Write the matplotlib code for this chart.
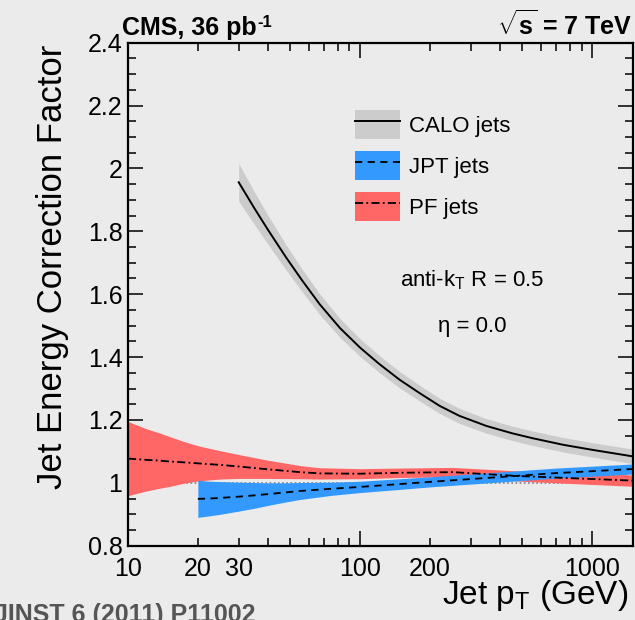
import matplotlib
matplotlib.use('Agg')
import matplotlib.pyplot as plt
from matplotlib.patches import Patch
from matplotlib.lines import Line2D
from matplotlib.ticker import FixedLocator, FixedFormatter

plt.rcParams['font.family'] = ['Liberation Sans', 'DejaVu Sans']
plt.rcParams['mathtext.fontset'] = 'custom'
plt.rcParams['mathtext.rm'] = 'Liberation Sans'
plt.rcParams['mathtext.it'] = 'Liberation Sans:italic'
plt.rcParams['mathtext.bf'] = 'Liberation Sans:bold'

# ---------------- data ----------------
pt_calo = [30, 35, 40, 48, 56, 67, 82, 100, 121, 148, 180, 220, 268, 350, 450, 553, 750, 1000, 1500]
corr_calo = [1.956, 1.874, 1.806, 1.717, 1.646, 1.568, 1.492, 1.430, 1.378, 1.328, 1.286, 1.245,
             1.213, 1.181, 1.158, 1.142, 1.121, 1.105, 1.084]
unc_calo = [0.060, 0.052, 0.046, 0.040, 0.036, 0.033, 0.030, 0.028, 0.027, 0.026, 0.025, 0.024,
            0.024, 0.023, 0.023, 0.023, 0.023, 0.023, 0.023]

pt_jpt = [20, 22.5, 25, 30, 35, 40, 47, 55, 75, 100, 148, 200, 300, 470, 700, 1000, 1500]
corr_jpt = [0.949, 0.950, 0.952, 0.956, 0.960, 0.964, 0.969, 0.974, 0.981, 0.987, 0.996, 1.003,
            1.012, 1.022, 1.031, 1.037, 1.044]
unc_jpt = [0.059, 0.055, 0.052, 0.046, 0.041, 0.036, 0.031, 0.027, 0.021, 0.018, 0.017, 0.016,
           0.016, 0.016, 0.016, 0.016, 0.016]

pt_pf = [10, 11, 12, 13.5, 15, 17.5, 20, 25, 30, 40, 55, 67, 100, 150, 250, 470, 800, 1500]
corr_pf = [1.077, 1.075, 1.073, 1.071, 1.068, 1.065, 1.062, 1.057, 1.052, 1.043, 1.034, 1.030,
           1.029, 1.032, 1.034, 1.022, 1.015, 1.007]
unc_pf = [0.118, 0.108, 0.099, 0.089, 0.080, 0.066, 0.056, 0.045, 0.038, 0.029, 0.021, 0.018,
          0.016, 0.015, 0.015, 0.016, 0.017, 0.018]

series_labels = ['CALO jets', 'JPT jets', 'PF jets']

x_major = [10, 100, 1000]
x_major_labels = ['10', '100', '1000']
x_minor = [20, 30, 40, 50, 60, 70, 80, 90, 200, 300, 400, 500, 600, 700, 800, 900]
x_minor_labels = ['20', '30', '', '', '', '', '', '', '200', '', '', '', '', '', '', '']
y_major = [0.8, 1.0, 1.2, 1.4, 1.6, 1.8, 2.0, 2.2, 2.4]
y_major_labels = ['0.8', '1', '1.2', '1.4', '1.6', '1.8', '2', '2.2', '2.4']
y_minor = [0.85, 0.9, 0.95, 1.05, 1.1, 1.15, 1.25, 1.3, 1.35, 1.45, 1.5, 1.55, 1.65, 1.7, 1.75,
           1.85, 1.9, 1.95, 2.05, 2.1, 2.15, 2.25, 2.3, 2.35]

# ---------------- style ----------------
BG = '#ebebeb'
C_CALO = '#cccccc'
C_JPT = '#3399ff'
C_PF = '#ff6666'

fig = plt.figure(figsize=(6.35, 6.2), dpi=100, facecolor=BG)
ax = fig.add_axes([128 / 635, 1 - 545.7 / 620, (633 - 128) / 635, (545.7 - 42.7) / 620])
ax.set_facecolor(BG)
ax.set_xscale('log')
ax.set_xlim(10, 1500)
ax.set_ylim(0.8, 2.4)

# reference line at 1
ax.plot([10, 1500], [1.0, 1.0], color='#808080', lw=1.2, ls=(0, (1, 1.5)), zorder=1)

def band(x, y, u, color):
    lo = [a - b for a, b in zip(y, u)]
    hi = [a + b for a, b in zip(y, u)]
    ax.fill_between(x, lo, hi, color=color, lw=0, zorder=2)

band(pt_pf, corr_pf, unc_pf, C_PF)
band(pt_jpt, corr_jpt, unc_jpt, C_JPT)
band(pt_calo, corr_calo, unc_calo, C_CALO)

ls_calo = '-'
ls_jpt = (0, (4, 3))
ls_pf = (0, (4.5, 1.8, 1, 1.8))
ax.plot(pt_calo, corr_calo, color='black', lw=1.4, ls=ls_calo, zorder=3)
ax.plot(pt_jpt, corr_jpt, color='black', lw=1.3, ls=ls_jpt, zorder=3)
ax.plot(pt_pf, corr_pf, color='black', lw=1.3, ls=ls_pf, zorder=3)

# ticks
ax.xaxis.set_major_locator(FixedLocator(x_major))
ax.xaxis.set_major_formatter(FixedFormatter(x_major_labels))
ax.xaxis.set_minor_locator(FixedLocator(x_minor))
ax.xaxis.set_minor_formatter(FixedFormatter(x_minor_labels))
ax.yaxis.set_major_locator(FixedLocator(y_major))
ax.yaxis.set_major_formatter(FixedFormatter(y_major_labels))
ax.yaxis.set_minor_locator(FixedLocator(y_minor))

ax.tick_params(which='both', direction='in', top=True, right=True, labelsize=18, width=1.1, color='black')
ax.tick_params(which='major', length=11)
ax.tick_params(which='minor', length=5.5)
ax.tick_params(axis='x', which='both', pad=8)
ax.tick_params(axis='y', which='both', pad=4)
for s in ax.spines.values():
    s.set_linewidth(1.6)

# axis titles
fig.text(62 / 635, 1 - 45 / 620, 'Jet Energy Correction Factor', rotation=90, rotation_mode='anchor',
         ha='right', va='baseline', fontsize=25)
fig.text(628 / 635, 1 - 604 / 620, r'Jet p$_\mathrm{T}$ (GeV)', ha='right', va='baseline', fontsize=24)

# header texts
cms = fig.text(122 / 635, 1 - 35 / 620, 'CMS, 36 pb', fontweight='bold', fontsize=18,
               ha='left', va='baseline')
fig.canvas.draw()
bb = cms.get_window_extent()
fig.text((bb.x1 + 1) / 635, 1 - 27 / 620, '-1', fontweight='bold', fontsize=12,
         ha='left', va='baseline')
fig.text(632 / 635, 1 - 35 / 620, r'$\sqrt{\mathbf{s}}$ = 7 TeV', fontweight='bold', fontsize=18,
         ha='right', va='baseline')
fig.text(-6 / 635, -2 / 620, 'JINST 6 (2011) P11002', fontweight='bold', fontsize=18,
         color='#555555', ha='left', va='baseline')

# annotations
ax.text(0.681, 0.515, r'anti-k$_\mathrm{T}$ R = 0.5', transform=ax.transAxes, ha='center',
        va='baseline', fontsize=16)
ax.text(0.681, 0.425, 'η = 0.0', transform=ax.transAxes, ha='center', va='baseline', fontsize=16)

# legend
handles = [
    (Patch(facecolor=C_CALO, lw=0), Line2D([], [], color='black', lw=1.4, ls=ls_calo)),
    (Patch(facecolor=C_JPT, lw=0), Line2D([], [], color='black', lw=1.3, ls=ls_jpt)),
    (Patch(facecolor=C_PF, lw=0), Line2D([], [], color='black', lw=1.3, ls=ls_pf)),
]
leg = ax.legend(handles, series_labels, loc='upper left', bbox_to_anchor=(355 / 635, 1 - 110 / 620),
                bbox_transform=fig.transFigure, frameon=False, fontsize=16, borderpad=0,
                borderaxespad=0, handlelength=2.03, handleheight=1.63, labelspacing=0.54,
                handletextpad=0.4)

fig.savefig('out.png', dpi=100, facecolor=BG)
